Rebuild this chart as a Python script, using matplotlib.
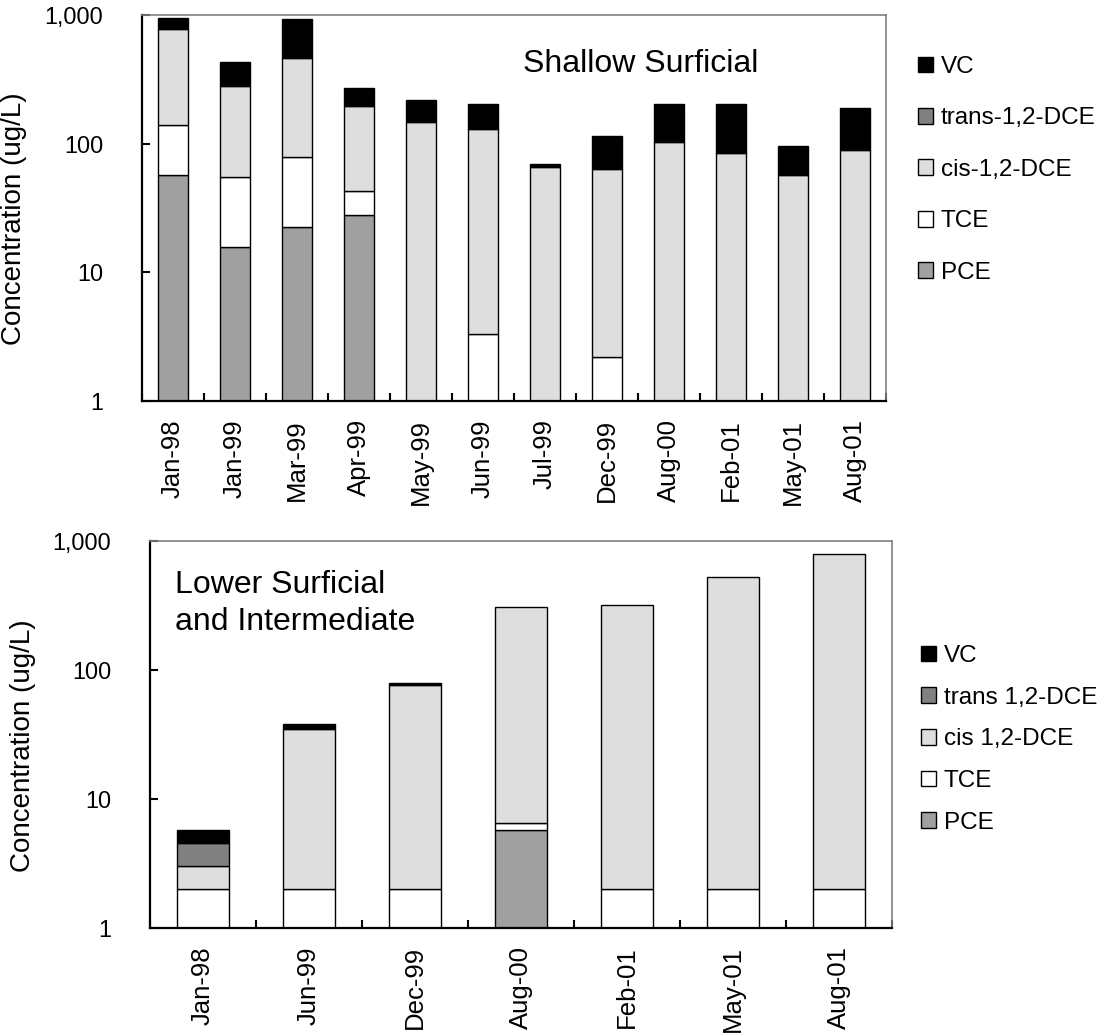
import numpy as np
import matplotlib
matplotlib.use("Agg")
import matplotlib.pyplot as plt
from matplotlib.patches import Patch
from matplotlib.ticker import FixedLocator, FuncFormatter, NullFormatter

plt.rcParams['font.family'] = ['Liberation Sans', 'DejaVu Sans']

# ---------------- data ----------------
species = ["PCE", "TCE", "cis-1,2-DCE", "trans-1,2-DCE", "VC"]
colors = ["#a0a0a0", "#ffffff", "#dedede", "#808080", "#000000"]

# Shallow Surficial
top_dates = ["Jan-98", "Jan-99", "Mar-99", "Apr-99", "May-99", "Jun-99",
             "Jul-99", "Dec-99", "Aug-00", "Feb-01", "May-01", "Aug-01"]
top_pce = [57, 15.8, 22.5, 27.9, 0, 0, 0, 0, 0, 0, 0, 0]
top_tce = [83, 39.5, 56.5, 14.9, 0, 3.3, 0, 2.2, 0, 0, 0, 0]
top_cis = [633, 227, 386, 154, 148, 125.7, 66, 60.8, 103.5, 84, 57, 90]
top_trans = [0, 0, 0, 0, 0, 0, 0, 0, 0, 0, 0, 0]
top_vc = [168, 146, 470, 72, 70, 73, 3, 52, 98.5, 118, 39, 98]
top_legend = ["VC", "trans-1,2-DCE", "cis-1,2-DCE", "TCE", "PCE"]

# Lower Surficial and Intermediate
bot_dates = ["Jan-98", "Jun-99", "Dec-99", "Aug-00", "Feb-01", "May-01", "Aug-01"]
bot_pce = [0, 0, 0, 5.7, 0, 0, 0]
bot_tce = [2.0, 2.0, 2.0, 0.8, 2.0, 2.0, 2.0]
bot_cis = [1.0, 32.9, 74.9, 303.5, 319, 527, 785]
bot_trans = [1.6, 0, 0, 0, 0, 0, 0]
bot_vc = [1.15, 3.0, 2.9, 0, 0, 0, 0]
bot_legend = ["VC", "trans 1,2-DCE", "cis 1,2-DCE", "TCE", "PCE"]

yticks = [1, 10, 100, 1000]

W, H = 1108, 1034
fig = plt.figure(figsize=(W / 100, H / 100), dpi=100)


def draw(ax, dates, series, title, title_xy, legend_labels, leg_anchor,
         leg_spacing, ylabel_x):
    n = len(dates)
    x = np.arange(n)
    bottom = np.zeros(n)
    for vals, col in zip(series, colors):
        v = np.asarray(vals, dtype=float)
        m = v > 0
        ax.bar(x[m], v[m], bottom=bottom[m], width=0.49, color=col,
               edgecolor="black", linewidth=1.0, zorder=2)
        bottom = bottom + v
    ax.set_yscale("log")
    ax.set_ylim(1, 1000)
    ax.set_xlim(-0.5, n - 0.5)
    ax.yaxis.set_major_locator(FixedLocator(yticks))
    ax.yaxis.set_minor_locator(FixedLocator([]))
    ax.yaxis.set_major_formatter(FuncFormatter(lambda v, p: f"{int(round(v)):,}"))
    ax.yaxis.set_minor_formatter(NullFormatter())
    ax.tick_params(axis="y", which="major", direction="in", length=6,
                   width=1.5, labelsize=16.8, pad=28)
    ax.set_xticks(x)
    ax.set_xticklabels(dates, rotation=90, fontsize=18.5)
    ax.set_xticks(np.arange(-0.5, n, 1.0), minor=True)
    ax.tick_params(axis="x", which="major", length=0, pad=13)
    ax.tick_params(axis="x", which="minor", direction="in", length=6, width=1.5)
    for s in ("left", "bottom"):
        ax.spines[s].set_color("black")
        ax.spines[s].set_linewidth(1.6)
    for s in ("top", "right"):
        ax.spines[s].set_color("#808080")
        ax.spines[s].set_linewidth(1.2)
    ax.set_ylabel("Concentration (ug/L)", fontsize=20)
    ax.yaxis.set_label_coords(ylabel_x, 0.472)
    ax.text(title_xy[0], title_xy[1], title, transform=ax.transAxes,
            fontsize=23, ha="left", va="baseline", linespacing=1.29)
    handles = [Patch(facecolor=c, edgecolor="black", linewidth=1.0)
               for c in colors[::-1]]
    ax.legend(handles, legend_labels, loc="upper left",
              bbox_to_anchor=leg_anchor, bbox_transform=fig.transFigure,
              frameon=False, fontsize=17.5, handlelength=0.62,
              handleheight=0.62, handletextpad=0.32, labelspacing=leg_spacing,
              borderpad=0, borderaxespad=0)


ax1 = fig.add_axes([142 / W, 1 - 401 / H, 744 / W, 386 / H])
draw(ax1, top_dates, [top_pce, top_tce, top_cis, top_trans, top_vc],
     "Shallow Surficial", (0.512, 0.853), top_legend,
     (918 / W, 1 - 56 / H), 1.21, -0.1546)

ax2 = fig.add_axes([150 / W, 1 - 928 / H, 742 / W, 387 / H])
draw(ax2, bot_dates, [bot_pce, bot_tce, bot_cis, bot_trans, bot_vc],
     "Lower Surficial\nand Intermediate", (0.034, 0.770), bot_legend,
     (921 / W, 1 - 645 / H), 0.81, -0.1536)

fig.savefig("out.png", dpi=100)
